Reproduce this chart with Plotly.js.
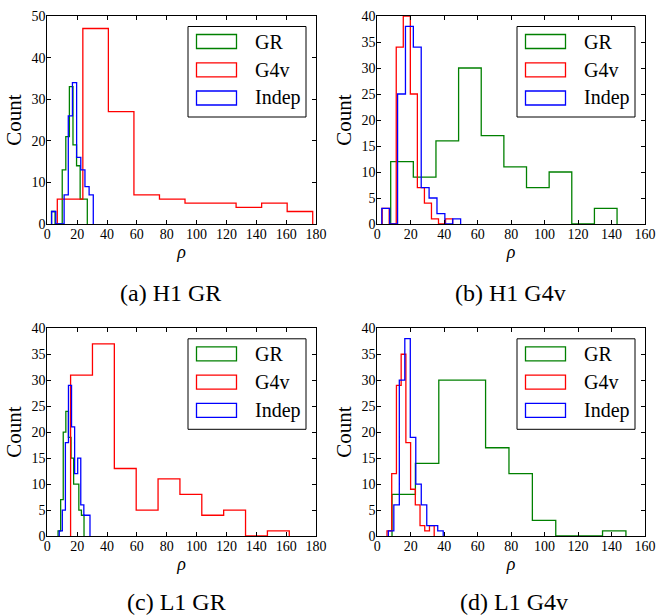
<!DOCTYPE html>
<html><head><meta charset="utf-8">
<script src="https://cdn.plot.ly/plotly-3.0.1.min.js"></script>
<style>html,body{margin:0;padding:0;background:#fff}</style>
</head><body><div id="chart" style="width:668px;height:616px"></div>
<script>
// ---- data (rho histograms, 10 equal bins between [min, max]) ----
const seriesNames = ['GR', 'G4v', 'Indep'];
const panelCaptions = ['(a) H1 GR', '(b) H1 G4v', '(c) L1 GR', '(d) L1 G4v'];

// (a) H1 GR
const a_GR_range = [2.8, 26.8];
const a_GR_counts = [3, 0, 0, 13, 21, 33, 19, 14, 6, 6];
const a_G4v_range = [6.7, 177.8];
const a_G4v_counts = [6, 47, 27, 7, 6, 5, 5, 4, 5, 3];
const a_Indep_range = [2.9, 30.8];
const a_Indep_counts = [3, 0, 0, 7, 26, 34, 16, 13, 9, 7];

// (b) H1 G4v
const b_GR_range = [8.0, 143.3];
const b_GR_counts = [12, 9, 16, 30, 17, 11, 7, 10, 0, 3];
const b_G4v_range = [2.9, 45.0];
const b_G4v_counts = [3, 0, 34, 40, 25, 7, 4, 1, 0, 1];
const b_Indep_range = [2.7, 49.8];
const b_Indep_counts = [3, 0, 25, 38, 34, 7, 5, 2, 0, 1];

// (c) L1 GR
const c_GR_range = [7.2, 24.6];
const c_GR_counts = [1, 7, 20, 24, 19, 15, 10, 10, 5, 4];
const c_G4v_range = [15.6, 162.1];
const c_G4v_counts = [31, 37, 13, 5, 11, 8, 4, 5, 0, 1];
const c_Indep_range = [8.0, 28.6];
const c_Indep_counts = [1, 5, 18, 29, 21, 12, 15, 6, 4, 4];

// (d) L1 G4v
const d_GR_range = [8.8, 148.6];
const d_GR_counts = [8, 14, 30, 30, 17, 12, 3, 0, 0, 1];
const d_G4v_range = [5.8, 34.0];
const d_G4v_counts = [1, 12, 29, 35, 18, 9, 6, 2, 1, 2];
const d_Indep_range = [6.6, 39.4];
const d_Indep_counts = [1, 6, 30, 38, 19, 10, 6, 2, 2, 1];

// axis limits
const xMaxA = 180, yMaxA = 50;
const xMaxB = 160, yMaxB = 40;
const xMaxC = 180, yMaxC = 40;
const xMaxD = 160, yMaxD = 40;

// ---- drawing ----
const W = 668, H = 616;
const colors = ['#008000', '#ff0000', '#0000ff'];
const FONT = "'Liberation Serif', 'Times New Roman', serif";
const px = v => v / W;
const py = v => 1 - v / H;

const panels = [
  {ax: '', series: [[a_GR_range, a_GR_counts], [a_G4v_range, a_G4v_counts], [a_Indep_range, a_Indep_counts]],
   xr: xMaxA, yr: yMaxA, ydt: 10, L: 47.3, R: 316, T: 16, B: 224, capX: 170, capY: 293},
  {ax: '2', series: [[b_GR_range, b_GR_counts], [b_G4v_range, b_G4v_counts], [b_Indep_range, b_Indep_counts]],
   xr: xMaxB, yr: yMaxB, ydt: 5, L: 377.3, R: 645, T: 16, B: 224, capX: 511, capY: 293},
  {ax: '3', series: [[c_GR_range, c_GR_counts], [c_G4v_range, c_G4v_counts], [c_Indep_range, c_Indep_counts]],
   xr: xMaxC, yr: yMaxC, ydt: 5, L: 47.3, R: 316, T: 328.3, B: 536, capX: 176, capY: 602},
  {ax: '4', series: [[d_GR_range, d_GR_counts], [d_G4v_range, d_G4v_counts], [d_Indep_range, d_Indep_counts]],
   xr: xMaxD, yr: yMaxD, ydt: 5, L: 377.3, R: 645, T: 328.3, B: 536, capX: 514, capY: 602}
];

function stepXY(range, counts) {
  const n = counts.length, w = (range[1] - range[0]) / n;
  const x = [range[0]], y = [0];
  for (let i = 0; i < n; i++) { x.push(range[0] + i * w); y.push(counts[i]); }
  x.push(range[1]); y.push(0);
  return {x, y};
}

const traces = [], shapes = [], annotations = [];
const layout = {
  width: W, height: H, margin: {l: 0, r: 0, t: 0, b: 0},
  paper_bgcolor: '#fff', plot_bgcolor: '#fff', showlegend: false,
  font: {family: FONT, color: '#000'}
};

panels.forEach((p, pi) => {
  p.series.forEach((s, si) => {
    const st = stepXY(s[0], s[1]);
    traces.push({type: 'scatter', mode: 'lines', x: st.x, y: st.y, name: seriesNames[si],
      xaxis: 'x' + p.ax, yaxis: 'y' + p.ax, line: {color: colors[si], width: 1.3, shape: 'hv'},
      hoverinfo: 'skip'});
  });
  const base = {showline: true, linecolor: '#000', linewidth: 1, mirror: 'ticks', ticks: 'inside',
    ticklen: 4, tickwidth: 1, tickcolor: '#000', showgrid: false, zeroline: false,
    tickfont: {family: FONT, size: 14, color: '#000'}, fixedrange: true, automargin: false};
  layout['xaxis' + p.ax] = Object.assign({}, base, {
    domain: [px(p.L), px(p.R)], range: [0, p.xr], dtick: 20, tick0: 0, ticklabelstandoff: -3,
    anchor: 'y' + p.ax, title: {text: '<i>ρ</i>', font: {family: FONT, size: 18}, standoff: 4}});
  layout['yaxis' + p.ax] = Object.assign({}, base, {
    domain: [py(p.B), py(p.T)], range: [0, p.yr], dtick: p.ydt, tick0: 0, ticklabelstandoff: -2,
    anchor: 'x' + p.ax, title: {text: 'Count', font: {family: FONT, size: 21}, standoff: 4}});

  // legend
  const bR = p.R - 10, bL = p.R - 128, bT = p.T + 10.5, bB = p.T + 101;
  shapes.push({type: 'rect', xref: 'paper', yref: 'paper', x0: px(bL), x1: px(bR), y0: py(bB), y1: py(bT),
    line: {color: '#000', width: 1}, fillcolor: '#fff', layer: 'above'});
  const cys = [bT + 15, bT + 43.3, bT + 71.5];
  cys.forEach((cy, si) => {
    shapes.push({type: 'rect', xref: 'paper', yref: 'paper', x0: px(bL + 8.5), x1: px(bL + 48.5),
      y0: py(cy + 7), y1: py(cy - 7), line: {color: colors[si], width: 1.3}, fillcolor: 'rgba(0,0,0,0)', layer: 'above'});
    annotations.push({xref: 'paper', yref: 'paper', x: px(bL + 65), y: py(cy), xanchor: 'left', yanchor: 'middle',
      text: seriesNames[si], showarrow: false, font: {family: FONT, size: 20, color: '#000'}});
  });
  annotations.push({xref: 'paper', yref: 'paper', x: px(p.capX), y: py(p.capY), xanchor: 'center', yanchor: 'middle',
    text: panelCaptions[pi], showarrow: false, font: {family: FONT, size: 24, color: '#000'}});
});

layout.shapes = shapes;
layout.annotations = annotations;
Plotly.newPlot('chart', traces, layout, {staticPlot: true, displayModeBar: false});
</script>
</body></html>
